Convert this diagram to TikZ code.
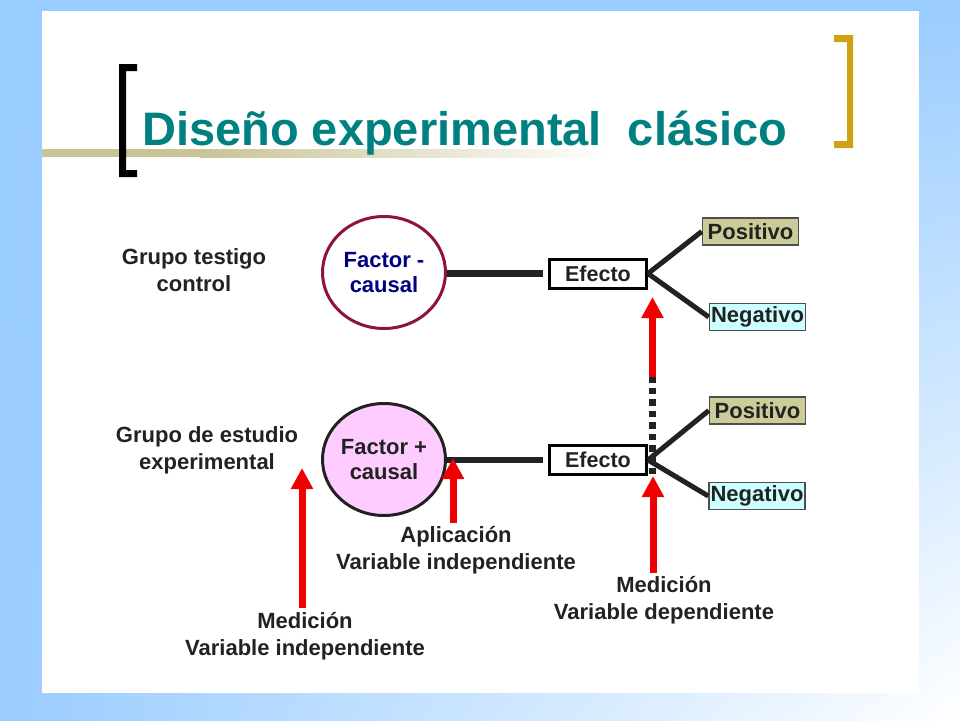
\documentclass[tikz,border=0pt]{standalone}
\usepackage{fontspec}
\setmainfont{Liberation Sans}
\usetikzlibrary{shapes.geometric,arrows.meta,shadings}
\definecolor{bgblue}{RGB}{153,204,255}
\definecolor{olivebar}{RGB}{200,196,150}
\definecolor{goldbr}{RGB}{210,160,20}
\definecolor{teal1}{RGB}{0,128,128}
\definecolor{maroon1}{RGB}{140,20,60}
\definecolor{navy1}{RGB}{0,0,128}
\definecolor{dk}{RGB}{34,34,34}
\definecolor{khaki1}{RGB}{204,204,153}
\definecolor{cyan1}{RGB}{204,255,255}
\definecolor{pink1}{RGB}{255,204,255}
\definecolor{arrowred}{RGB}{240,0,0}
\begin{document}
\begin{tikzpicture}[x=1pt,y=-1pt,
  lbl/.style={font=\fontsize{22}{27}\selectfont\bfseries, text=dk, align=center, inner sep=0pt},
  factorc/.style={ellipse, minimum width=123pt, minimum height=112pt, line width=3pt, inner sep=0pt,
     font=\fontsize{22}{25}\selectfont\bfseries, align=center},
  efbox/.style={rectangle, draw=black, line width=3pt, fill=white, minimum width=97pt, minimum height=29pt,
     inner sep=0pt, font=\fontsize{21.5}{25}\selectfont\bfseries, text=dk},
  resbox/.style={rectangle, draw=dk!80, line width=1.5pt, minimum width=96pt, minimum height=27pt,
     inner sep=0pt, font=\fontsize{22}{25}\selectfont\bfseries, text=dk},
  link/.style={draw=dk, line width=6.5pt},
  branch/.style={draw=dk, line width=5pt},
  redarrow/.style={draw=arrowred, line width=7pt, -{Triangle[width=21pt,length=21pt]}}
]
\useasboundingbox (0,0) rectangle (960,720);
% background
\shade[upper left=bgblue, upper right=bgblue, lower left=bgblue, lower right=white] (0,0) rectangle (960,720);
\fill[white] (42,11) rectangle (919,693);
% olive line under the title
\fill[olivebar] (42,149) rectangle (200,157);
\shade[left color=olivebar, right color=white] (200,149) rectangle (610,157);
% brackets
\fill[black] (119,64) -- (137,64) -- (137,71) -- (126,71) -- (126,170) -- (137,170) -- (137,177) -- (119,177) -- cycle;
\fill[goldbr] (853,35) -- (834,35) -- (834,42) -- (847,42) -- (847,141) -- (834,141) -- (834,148) -- (853,148) -- cycle;
% title
\node[anchor=base west, inner sep=0pt, text=teal1, font=\fontsize{47}{50}\selectfont\bfseries] (title) at (142,145) {Diseño experimental\ \ clásico};

% group labels
\node[lbl] (gt) at (194,270.5) {Grupo testigo\\control};
\node[lbl] (ge) at (207,450) {Grupo de estudio\\experimental};

% top row
\node[factorc, draw=maroon1, fill=white, text=navy1] (c1) at (384,272.5) {Factor -\\causal};
\node[efbox] (e1) at (598,273.5) {Efecto};
\node[resbox, fill=khaki1] (p1) at (750.5,231.5) {Positivo};
\node[resbox, fill=cyan1] (n1) at (757.5,317) {Negativo};
\draw[link, shorten >=5pt] (c1.east |- e1.west) -- (e1.west);
\draw[branch] (e1.east) -- (p1.west);
\draw[branch] (e1.east) -- (n1.west);

% bottom row
\node[factorc, draw=dk, fill=pink1, text=dk] (c2) at (384,459.5) {Factor +\\causal};
\node[efbox] (e2) at (598,460) {Efecto};
\node[resbox, fill=khaki1] (p2) at (757.5,410.5) {Positivo};
\node[resbox, fill=cyan1] (n2) at (757,496) {Negativo};
\draw[link, shorten >=5pt] (c2.east |- e2.west) -- (e2.west);
\draw[branch] (e2.east) -- (p2.west);
\draw[branch] (e2.east) -- (n2.west);

% dotted line
\coordinate (d1) at (652.5,376);
\coordinate (d2) at (652.5,474);
\draw[dk, line width=7pt, dash pattern=on 6.5pt off 5pt] (d1) -- (d2);

% bottom labels
\node[lbl] (ap) at (456,550) {Aplicación\\Variable independiente};
\node[lbl] (md) at (664,600) {Medición\\Variable dependiente};
\node[lbl] (mi) at (305,636) {Medición\\Variable independiente};

% red arrows
\coordinate (a1s) at (652.5,377);
\coordinate (a1e) at (652.5,297);
\coordinate (a2s) at (653,573);
\coordinate (a2e) at (653,476);
\coordinate (a3s) at (453,523);
\coordinate (a3e) at (453,458);
\coordinate (a4s) at (302,608);
\coordinate (a4e) at (302,468);
\draw[redarrow] (a1s) -- (a1e);
\draw[redarrow] (a2s) -- (a2e);
\draw[redarrow] (a3s) -- (a3e);
\draw[redarrow] (a4s) -- (a4e);
\end{tikzpicture}
\end{document}
